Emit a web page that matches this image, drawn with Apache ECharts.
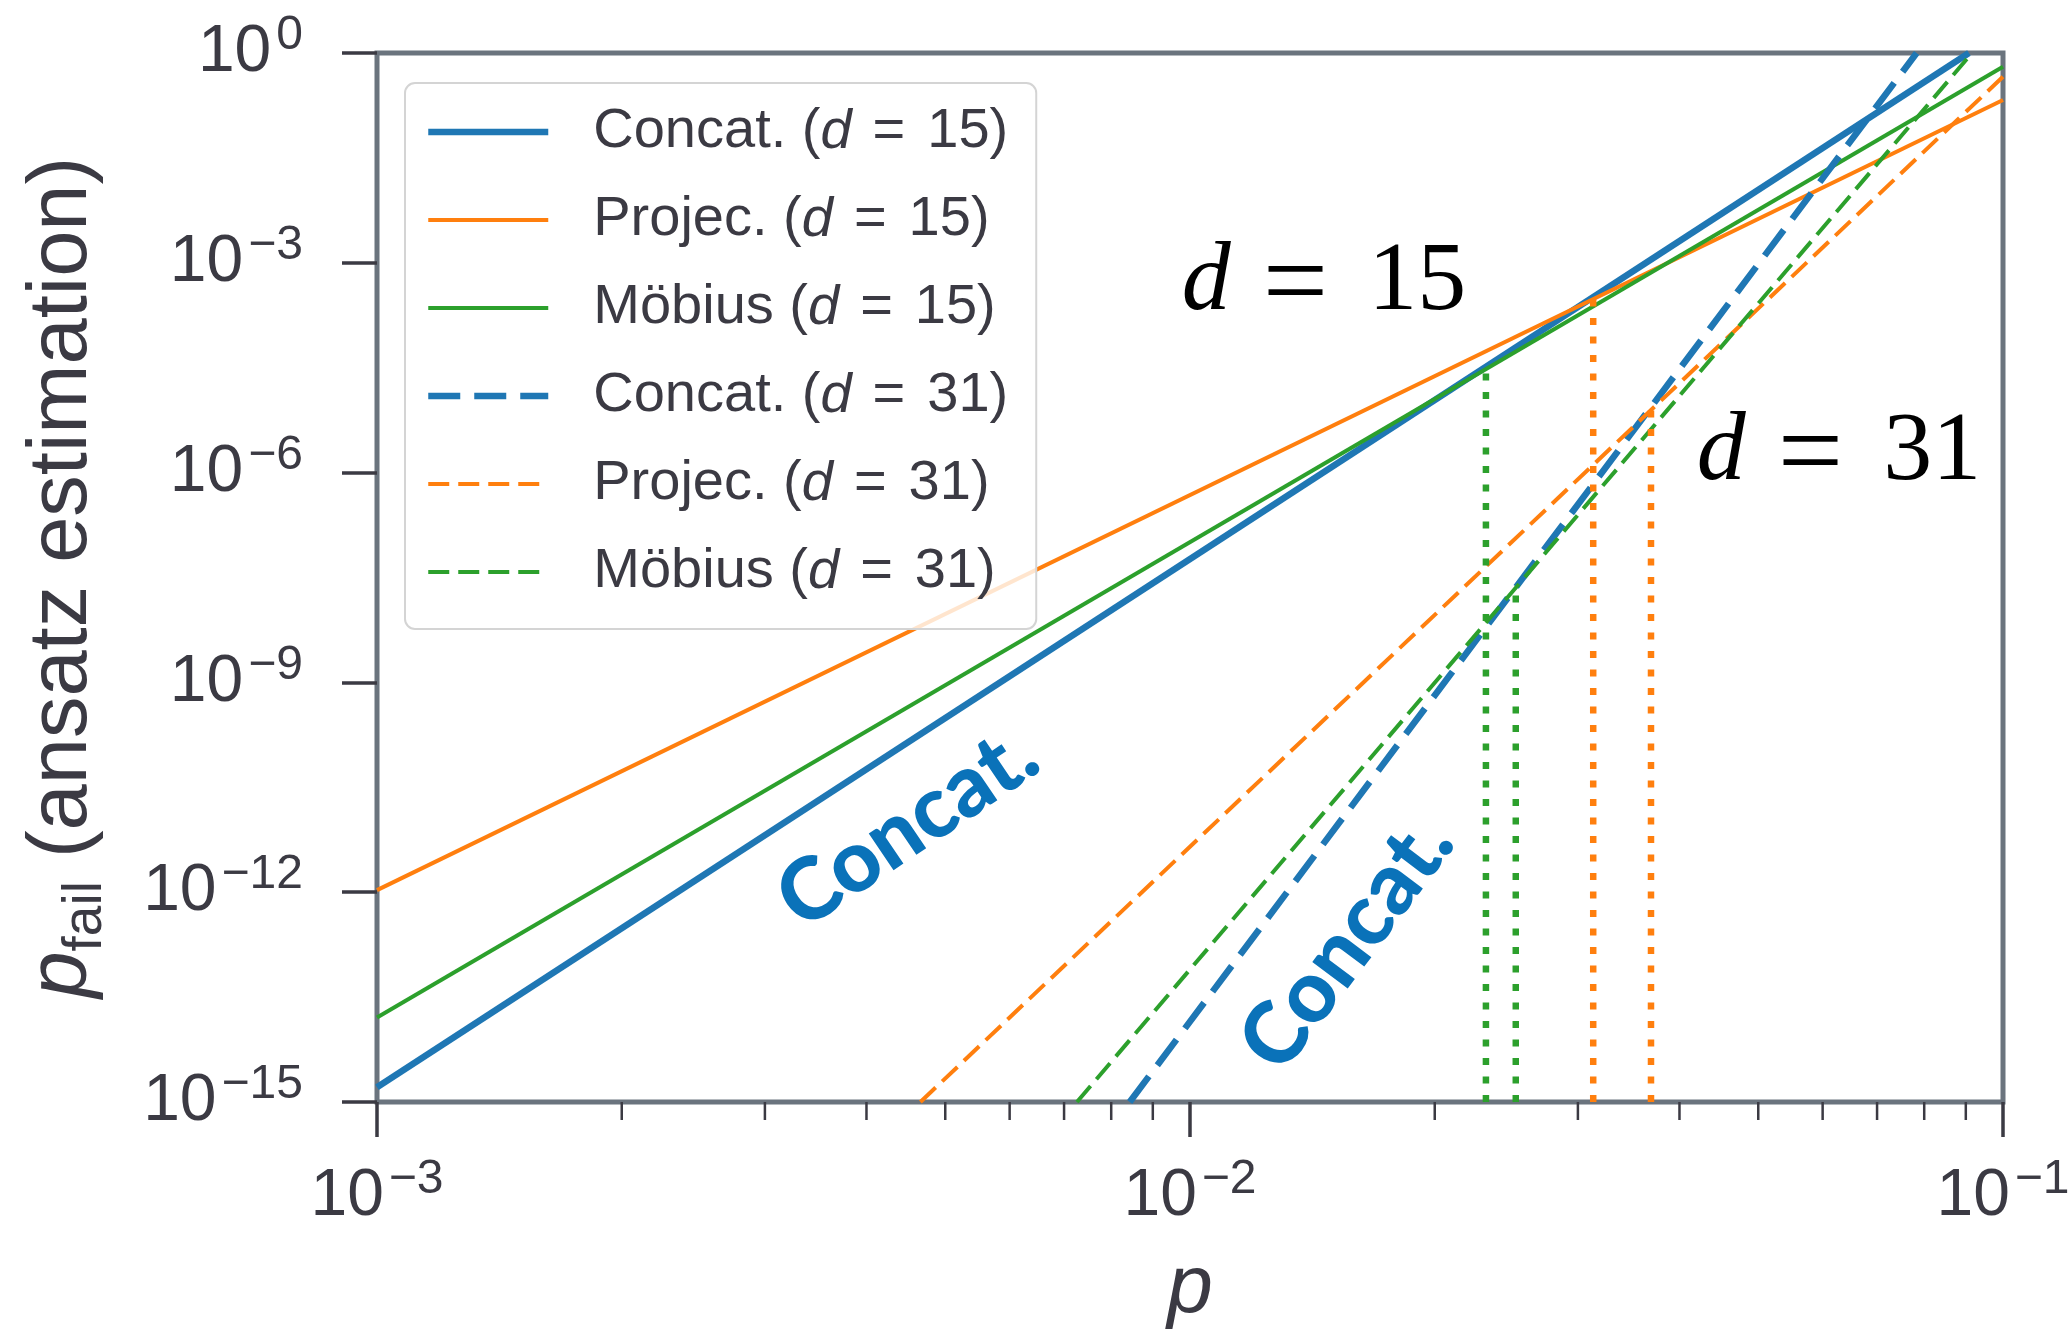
<!DOCTYPE html>
<html><head><meta charset="utf-8">
<script src="https://cdn.jsdelivr.net/npm/echarts@6/dist/echarts.min.js"></script>
<style>html,body{margin:0;padding:0;background:#fff}#c{width:2069px;height:1339px}</style>
</head><body><div id="c"></div>
<script>
// ---------------- data ----------------
const seriesNames = ['Concat. (d = 15)', 'Projec. (d = 15)', 'Möbius (d = 15)',
                     'Concat. (d = 31)', 'Projec. (d = 31)', 'Möbius (d = 31)'];
// [p, p_fail] end points of each ansatz line (straight lines on log-log)
const concat15 = [[1e-3, 1.62e-15], [0.0908, 1.0]];
const projec15 = [[1e-3, 1.07e-12], [0.1, 0.213]];
const mobius15 = [[1e-3, 1.62e-14], [0.1, 0.637]];
const concat31 = [[0.00843, 1e-15], [0.0783, 1.0]];
const projec31 = [[0.00466, 1e-15], [0.1, 0.458]];
const mobius31 = [[0.00726, 1e-15], [0.0916, 1.0]];
// crossing markers: [p, p_fail at crossing]
const crossGreen = [[0.02312, 3.0e-5], [0.02516, 2.3e-8]];
const crossOrange = [[0.03133, 3.1e-4], [0.0369, 8.0e-6]];
const yFloor = 1e-15;
const xMinorTicks = [0.002,0.003,0.004,0.005,0.006,0.007,0.008,0.009,
                     0.02,0.03,0.04,0.05,0.06,0.07,0.08,0.09];
// annotations: [text, p, p_fail, rotation deg]
const annMath = [['15', 0.00977, 5.1e-4], ['31', 0.04202, 1.9e-6]];
const annConcat = [['Concat.', 0.004496, 8.5e-12, 34], ['Concat.', 0.01560, 1.86e-13, 53]];

// ---------------- style ----------------
const BLUE = '#1f77b4', ORANGE = '#ff7f0e', GREEN = '#2ca02c';
const TXT = '#3b3a43', SPINE = '#6b747e', TICK = '#3b3a43';
const FONT = "'Liberation Sans', Arial, Helvetica, sans-serif";
const SERIF = "'Liberation Serif', 'Times New Roman', serif";

function powLabel(v) {
  const e = Math.round(Math.log10(v));
  return '{b|10}{s|' + (e < 0 ? '\u2212' + (-e) : String(e)) + '}';
}
const tickRich = {
  b: {fontFamily: FONT, fontSize: 66, lineHeight: 82, color: TXT},
  s: {fontFamily: FONT, fontSize: 48, lineHeight: 46, verticalAlign: 'top', color: TXT, padding: [0, 0, 0, 5]}
};

function lineSeries(name, data, color, width, dash) {
  return {
    type: 'line', name: name, data: data, symbol: 'none', silent: true,
    lineStyle: {color: color, width: width, type: dash || 'solid', cap: 'butt'},
    itemStyle: {color: color}, emphasis: {disabled: true}, z: 3
  };
}
function crossSeries(pts, color) {
  return pts.map(function (pt) {
    return {
      type: 'line', data: [[pt[0], yFloor], [pt[0], pt[1]]], symbol: 'none', silent: true,
      lineStyle: {color: color, width: 6.5, type: [7, 11.5], cap: 'butt'},
      emphasis: {disabled: true}, z: 4
    };
  });
}

const chart = echarts.init(document.getElementById('c'), null, {renderer: 'canvas'});
const series = [
  lineSeries(seriesNames[0], concat15, BLUE, 6.5),
  lineSeries(seriesNames[1], projec15, ORANGE, 4),
  lineSeries(seriesNames[2], mobius15, GREEN, 4),
  lineSeries(seriesNames[3], concat31, BLUE, 6.5, [32, 14]),
  lineSeries(seriesNames[4], projec31, ORANGE, 4, [21, 9]),
  lineSeries(seriesNames[5], mobius31, GREEN, 4, [21, 9])
].concat(crossSeries(crossGreen, GREEN), crossSeries(crossOrange, ORANGE));

series.push({
  type: 'custom', silent: true, clip: false, z: 5,
  data: xMinorTicks.map(function (v) { return [v, yFloor]; }),
  renderItem: function (params, api) {
    const pt = api.coord([api.value(0), api.value(1)]);
    return {type: 'line', shape: {x1: pt[0], y1: pt[1], x2: pt[0], y2: pt[1] + 18},
            style: {stroke: TICK, lineWidth: 2.5}};
  }
});

chart.setOption({
  animation: false,
  backgroundColor: '#ffffff',
  grid: {left: 377, right: 66, top: 53, bottom: 237, show: true,
         borderColor: SPINE, borderWidth: 5, backgroundColor: 'transparent',
         outerBoundsMode: 'none'},
  xAxis: {
    type: 'log', logBase: 10, min: 1e-3, max: 0.1, interval: 1,
    name: '{p|p}', nameLocation: 'middle', nameGap: 147,
    nameTextStyle: {rich: {p: {fontFamily: FONT, fontStyle: 'italic', fontSize: 82, lineHeight: 80, color: TXT}}},
    axisLine: {show: false},
    axisTick: {show: true, length: 35, lineStyle: {color: TICK, width: 3.5}},
    axisLabel: {margin: 54, formatter: powLabel, rich: tickRich, showMinLabel: true, showMaxLabel: true},
    splitLine: {show: false}, minorTick: {show: false}
  },
  yAxis: {
    type: 'log', logBase: 10, min: 1e-15, max: 1, interval: 3,
    name: '{p|p}{sub|fail}{n| (ansatz estimation)}', nameLocation: 'middle', nameRotate: 90, nameGap: 264,
    nameTextStyle: {rich: {
      p: {fontFamily: FONT, fontStyle: 'italic', fontSize: 84, lineHeight: 100, color: TXT},
      sub: {fontFamily: FONT, fontSize: 55, lineHeight: 46, verticalAlign: 'bottom', color: TXT},
      n: {fontFamily: FONT, fontSize: 83, lineHeight: 100, color: TXT}
    }},
    axisLine: {show: false},
    axisTick: {show: true, length: 35, lineStyle: {color: TICK, width: 3.5}},
    axisLabel: {margin: 74, formatter: powLabel, rich: tickRich, showMinLabel: true, showMaxLabel: true},
    splitLine: {show: false}, minorTick: {show: false}
  },
  legend: {
    data: seriesNames, orient: 'vertical', left: 405, top: 83,
    itemWidth: 120, itemHeight: 14, itemGap: 32,
    padding: [21, 28, 29, 20],
    backgroundColor: 'rgba(255,255,255,0.8)', borderColor: '#d4d4d4', borderWidth: 2, borderRadius: 10,
    selectedMode: false,
    itemStyle: {opacity: 0},
    lineStyle: {width: 'inherit', type: 'inherit', opacity: 1},
    textStyle: {padding: [0, 0, 0, 40], rich: {
      n: {fontFamily: FONT, fontSize: 56, lineHeight: 60, color: TXT},
      i: {fontFamily: FONT, fontStyle: 'italic', fontSize: 56, lineHeight: 60, color: TXT},
      e: {fontFamily: FONT, fontSize: 56, lineHeight: 60, color: TXT, padding: [0, 22, 0, 21]}
    }},
    formatter: function (name) {
      const m = name.match(/^(.*)\(d = (\d+)\)$/);
      return '{n|' + m[1] + '(}{i|d}{e|=}{n|' + m[2] + ')}';
    }
  },
  series: series
});

// annotations placed in data coordinates
const gfx = [];
annMath.forEach(function (a) {
  const px = chart.convertToPixel({gridIndex: 0}, [a[1], a[2]]);
  gfx.push({type: 'text', x: px[0], y: px[1], z: 10, silent: true, style: {
    text: '{i|d}{e|=}{n|' + a[0] + '}', align: 'left', verticalAlign: 'middle',
    rich: {i: {fontFamily: SERIF, fontStyle: 'italic', fontSize: 98, fill: '#000'},
           e: {fontFamily: SERIF, fontSize: 116, fill: '#000', padding: [10, 40, 0, 32]},
           n: {fontFamily: SERIF, fontSize: 98, fill: '#000'}}
  }});
});
annConcat.forEach(function (a) {
  const px = chart.convertToPixel({gridIndex: 0}, [a[1], a[2]]);
  gfx.push({type: 'text', x: px[0], y: px[1], rotation: a[3] * Math.PI / 180, z: 10, silent: true,
    style: {text: a[0], align: 'center', verticalAlign: 'middle', fill: '#0a72b9',
            font: "900 86px Lato, 'Open Sans', sans-serif"}});
});
chart.setOption({graphic: gfx});
</script>
</body></html>
